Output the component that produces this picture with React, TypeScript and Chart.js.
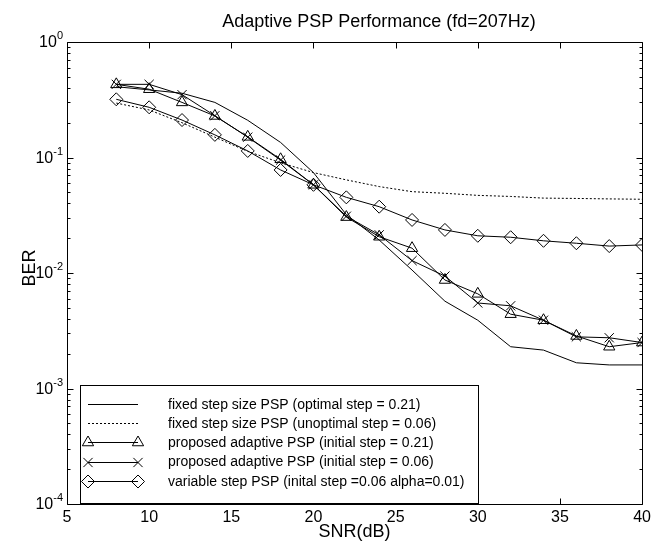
import React, { useEffect, useRef } from 'react';
import { Chart, registerables } from 'chart.js';

Chart.register(...registerables);

const titleText = 'Adaptive PSP Performance (fd=207Hz)';
const xAxisLabel = 'SNR(dB)';
const yAxisLabel = 'BER';

const snr = [8, 10, 12, 14, 16, 18, 20, 22, 24, 26, 28, 30, 32, 34, 36, 38, 40];
const berFixedOptimal = [0.41, 0.385, 0.36, 0.3, 0.21, 0.135, 0.074, 0.032, 0.0193, 0.0106, 0.0057, 0.0039, 0.0023, 0.00215, 0.00167, 0.0016, 0.0016];
const berFixedUnoptimal = [0.296, 0.258, 0.2, 0.15, 0.113, 0.09, 0.074, 0.064, 0.056, 0.0506, 0.049, 0.047, 0.046, 0.0445, 0.0442, 0.0438, 0.0435];
const berAdaptive021 = [0.43, 0.39, 0.3, 0.229, 0.151, 0.0965, 0.058, 0.0305, 0.0206, 0.0164, 0.0087, 0.0066, 0.0044, 0.0039, 0.00285, 0.0023, 0.0025];
const berAdaptive006 = [0.43, 0.43, 0.35, 0.23, 0.15, 0.095, 0.058, 0.031, 0.0214, 0.0128, 0.0094, 0.0055, 0.0052, 0.0039, 0.0028, 0.00275, 0.0025];
const berVariable = [0.319, 0.272, 0.211, 0.157, 0.114, 0.078, 0.058, 0.0452, 0.0375, 0.0288, 0.0236, 0.021, 0.0204, 0.019, 0.0181, 0.0171, 0.0175];

const seriesLabels = [
  'fixed step size PSP (optimal step = 0.21)',
  'fixed step size PSP (unoptimal step = 0.06)',
  'proposed adaptive PSP (initial step = 0.21)',
  'proposed adaptive PSP (initial step = 0.06)',
  'variable step PSP (inital step =0.06 alpha=0.01)',
];

const xTickValues = [5, 10, 15, 20, 25, 30, 35, 40];
const yDecadeExponents = [0, -1, -2, -3, -4];

const FONT = '"Liberation Sans", Arial, Helvetica, sans-serif';

function pts(ys: number[]) {
  return snr.map((x, i) => ({ x, y: ys[i] }));
}

function drawMarker(ctx: CanvasRenderingContext2D, style: string, x: number, y: number, r: number) {
  ctx.beginPath();
  if (style === 'triangle') {
    for (let k = 0; k < 3; k++) {
      const a = (k * 2 * Math.PI) / 3;
      const px = x + Math.sin(a) * r;
      const py = y - Math.cos(a) * r;
      if (k === 0) ctx.moveTo(px, py);
      else ctx.lineTo(px, py);
    }
    ctx.closePath();
  } else if (style === 'rectRot') {
    ctx.moveTo(x - r, y);
    ctx.lineTo(x, y - r);
    ctx.lineTo(x + r, y);
    ctx.lineTo(x, y + r);
    ctx.closePath();
  } else if (style === 'crossRot') {
    const o = Math.SQRT1_2 * r;
    ctx.moveTo(x - o, y - o);
    ctx.lineTo(x + o, y + o);
    ctx.moveTo(x - o, y + o);
    ctx.lineTo(x + o, y - o);
  }
  ctx.stroke();
}

const framePlugin = {
  id: 'frameAndText',
  afterDraw(chart: any) {
    const { ctx, chartArea: a, scales } = chart;
    const xs = scales.x;
    const ys = scales.y;
    ctx.save();
    ctx.strokeStyle = '#000';
    ctx.fillStyle = '#000';
    ctx.lineWidth = 1;
    ctx.setLineDash([]);

    const L = Math.round(a.left) + 0.5;
    const R = Math.round(a.right) + 0.5;
    const T = Math.round(a.top) + 0.5;
    const B = Math.round(a.bottom) + 0.5;

    // box
    ctx.beginPath();
    ctx.rect(L, T, R - L, B - T);
    ctx.stroke();

    // x ticks (inward, top and bottom)
    ctx.beginPath();
    for (const v of xTickValues) {
      const px = Math.round(xs.getPixelForValue(v)) + 0.5;
      ctx.moveTo(px, B);
      ctx.lineTo(px, B - 6);
      ctx.moveTo(px, T);
      ctx.lineTo(px, T + 6);
    }
    // y ticks
    for (const e of yDecadeExponents) {
      const py = Math.round(ys.getPixelForValue(Math.pow(10, e))) + 0.5;
      ctx.moveTo(L, py);
      ctx.lineTo(L + 6, py);
      ctx.moveTo(R, py);
      ctx.lineTo(R - 6, py);
      if (e < 0) {
        for (let m = 2; m <= 9; m++) {
          const pm = Math.round(ys.getPixelForValue(m * Math.pow(10, e))) + 0.5;
          ctx.moveTo(L, pm);
          ctx.lineTo(L + 3, pm);
          ctx.moveTo(R, pm);
          ctx.lineTo(R - 3, pm);
        }
      }
    }
    ctx.stroke();

    // y tick labels 10^e
    for (const e of yDecadeExponents) {
      const py = ys.getPixelForValue(Math.pow(10, e));
      const expStr = String(e);
      ctx.font = `11px ${FONT}`;
      const ew = ctx.measureText(expStr).width;
      ctx.font = `16px ${FONT}`;
      const bw = ctx.measureText('10').width;
      const right = a.left - 4;
      ctx.textBaseline = 'middle';
      ctx.textAlign = 'left';
      ctx.fillText('10', right - ew - bw, py + 1);
      ctx.font = `11px ${FONT}`;
      ctx.fillText(expStr, right - ew, py - 6);
    }

    // title
    ctx.font = `18px ${FONT}`;
    ctx.textAlign = 'center';
    ctx.textBaseline = 'middle';
    ctx.fillText(titleText, 379, 22);

    // x label
    ctx.fillText(xAxisLabel, (a.left + a.right) / 2, 532);

    // y label
    ctx.save();
    ctx.translate(30, 268);
    ctx.rotate(-Math.PI / 2);
    ctx.fillText(yAxisLabel, 0, 0);
    ctx.restore();

    // legend
    const lx0 = 80.5, ly0 = 385.5, lx1 = 478.5, ly1 = 503.5;
    ctx.fillStyle = '#fff';
    ctx.fillRect(lx0, ly0, lx1 - lx0, ly1 - ly0);
    ctx.strokeStyle = '#000';
    ctx.strokeRect(lx0, ly0, lx1 - lx0, ly1 - ly0);
    ctx.fillStyle = '#000';
    ctx.font = `14px ${FONT}`;
    ctx.textAlign = 'left';
    ctx.textBaseline = 'middle';
    chart.data.datasets.forEach((ds: any, i: number) => {
      const y = 404 + i * 19.2;
      const sx0 = 88, sx1 = 138;
      ctx.lineWidth = 1;
      ctx.setLineDash(ds.borderDash || []);
      ctx.beginPath();
      ctx.moveTo(sx0, Math.round(y) + 0.5);
      ctx.lineTo(sx1, Math.round(y) + 0.5);
      ctx.stroke();
      ctx.setLineDash([]);
      if (ds.pointRadius > 0) {
        drawMarker(ctx, ds.pointStyle, sx0, Math.round(y) + 0.5, ds.pointRadius);
        drawMarker(ctx, ds.pointStyle, sx1, Math.round(y) + 0.5, ds.pointRadius);
      }
      ctx.fillText(ds.label, 168, y + 1);
    });

    ctx.restore();
  },
};

export default function App() {
  const ref = useRef<HTMLCanvasElement | null>(null);

  useEffect(() => {
    if (!ref.current) return;
    const common = {
      borderColor: '#000',
      borderWidth: 1,
      pointBorderColor: '#000',
      pointBackgroundColor: 'rgba(0,0,0,0)',
      pointBorderWidth: 1,
      tension: 0,
      fill: false,
    };
    const chart = new Chart(ref.current, {
      type: 'line',
      data: {
        datasets: [
          { ...common, label: seriesLabels[0], data: pts(berFixedOptimal), pointRadius: 0, pointStyle: 'circle' },
          { ...common, label: seriesLabels[1], data: pts(berFixedUnoptimal), pointRadius: 0, borderDash: [2, 2], pointStyle: 'circle' },
          { ...common, label: seriesLabels[2], data: pts(berAdaptive021), pointRadius: 6.5, pointStyle: 'triangle' },
          { ...common, label: seriesLabels[3], data: pts(berAdaptive006), pointRadius: 6.5, pointStyle: 'crossRot' },
          { ...common, label: seriesLabels[4], data: pts(berVariable), pointRadius: 6.5, pointStyle: 'rectRot' },
        ],
      },
      options: {
        animation: false,
        responsive: true,
        maintainAspectRatio: false,
        layout: { padding: { top: 42, right: 8, bottom: 0, left: 0 } },
        plugins: {
          legend: { display: false },
          title: { display: false },
          tooltip: { enabled: false },
        },
        scales: {
          x: {
            type: 'linear',
            min: 5,
            max: 40,
            grid: { display: false, drawTicks: false },
            border: { display: false },
            ticks: {
              stepSize: 5,
              color: '#000',
              padding: 4,
              maxRotation: 0,
              font: { family: FONT, size: 16 },
            },
            afterFit: (s: any) => {
              s.height = 40;
            },
          },
          y: {
            type: 'logarithmic',
            min: 1e-4,
            max: 1,
            grid: { display: false, drawTicks: false },
            border: { display: false },
            ticks: { display: false },
            afterFit: (s: any) => {
              s.width = 67;
            },
          },
        },
      },
      plugins: [framePlugin],
    });
    return () => chart.destroy();
  }, []);

  return (
    <div style={{ position: 'fixed', left: 0, top: 0, width: 655, height: 544, background: '#fff' }}>
      <canvas ref={ref} />
    </div>
  );
}
